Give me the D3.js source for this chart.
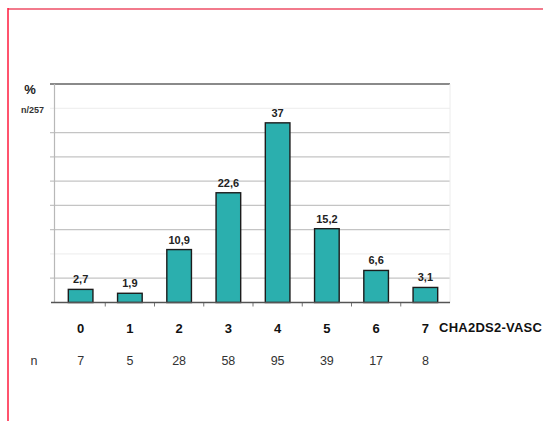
<!DOCTYPE html>
<html>
<head>
<meta charset="utf-8">
<script src="https://cdn.jsdelivr.net/npm/d3@7"></script>
<style>
  html, body { margin: 0; padding: 0; background: #fff; overflow: hidden; }
  svg { display: block; font-family: "Liberation Sans", Arial, sans-serif; }
</style>
</head>
<body>
<svg id="chart" width="543" height="421"></svg>
<script>
const categories = ["0", "1", "2", "3", "4", "5", "6", "7"];
const percentValues = [2.7, 1.9, 10.9, 22.6, 37, 15.2, 6.6, 3.1];
const valueLabels = ["2,7", "1,9", "10,9", "22,6", "37", "15,2", "6,6", "3,1"];
const nValues = ["7", "5", "28", "58", "95", "39", "17", "8"];
const yTicks = [5, 10, 15, 20, 25, 30, 35, 40, 45];
const faintTicks = [10, 40];
const xTitle = "CHA2DS2-VASC";
const yTitle = "%";
const ySubTitle = "n/257";
const nTitle = "n";

const svg = d3.select("#chart");

// page frame
svg.append("line").attr("x1", 8).attr("x2", 543).attr("y1", 9).attr("y2", 9)
  .attr("stroke", "#f27a8c").attr("stroke-width", 2);
svg.append("line").attr("x1", 8).attr("x2", 8).attr("y1", 8).attr("y2", 421)
  .attr("stroke", "#ff1a3c").attr("stroke-width", 1.5);

const x = d3.scaleBand().domain(categories).range([56, 450]).paddingInner(0.5).paddingOuter(0.25);
const y = d3.scaleLinear().domain([0, 45]).range([302.5, 84]);

// gridlines
const g = svg.append("g");
g.selectAll("line.grid").data(yTicks).enter().append("line")
  .attr("class", "grid")
  .attr("x1", 50).attr("x2", 450)
  .attr("y1", d => y(d)).attr("y2", d => y(d))
  .attr("stroke", d => d === 45 ? "#8a8a8a" : (faintTicks.includes(d) ? "#f0f0f0" : "#c4c4c4"))
  .attr("stroke-width", d => d === 45 ? 2 : 1.2);

// left axis line
svg.append("line").attr("x1", 54.5).attr("x2", 54.5).attr("y1", y(45)).attr("y2", y(0))
  .attr("stroke", "#b8b8b8").attr("stroke-width", 1.2);
// right faint line
svg.append("line").attr("x1", 450).attr("x2", 450).attr("y1", y(45)).attr("y2", y(0))
  .attr("stroke", "#ececec").attr("stroke-width", 1);

// bars
svg.append("g").selectAll("rect").data(categories).enter().append("rect")
  .attr("x", d => x(d))
  .attr("width", x.bandwidth())
  .attr("y", (d, i) => y(percentValues[i]))
  .attr("height", (d, i) => y(0) - y(percentValues[i]))
  .attr("fill", "#2bafae")
  .attr("stroke", "#1c1c1c")
  .attr("stroke-width", 1.4);

// value labels
svg.append("g").selectAll("text").data(categories).enter().append("text")
  .attr("x", d => x(d) + x.bandwidth() / 2)
  .attr("y", (d, i) => y(percentValues[i]) - 6)
  .attr("text-anchor", "middle")
  .attr("font-size", 11).attr("font-weight", "bold").attr("fill", "#222")
  .text((d, i) => valueLabels[i]);

// bottom axis
const xAxis = d3.axisBottom(x).tickSize(4).tickFormat("");
const ax = svg.append("g").attr("transform", `translate(0,${y(0)})`).call(xAxis);
ax.select(".domain").remove();
ax.selectAll(".tick line")
  .attr("transform", `translate(${x.step() / 2},0)`)
  .attr("stroke", "#777");
ax.selectAll(".tick").filter((d, i) => i === categories.length - 1).remove();
svg.append("line").attr("x1", 51).attr("x2", 450).attr("y1", y(0)).attr("y2", y(0))
  .attr("stroke", "#555").attr("stroke-width", 1.5);

// category labels
svg.append("g").selectAll("text").data(categories).enter().append("text")
  .attr("x", d => x(d) + x.bandwidth() / 2)
  .attr("y", 332.5)
  .attr("text-anchor", "middle")
  .attr("font-size", 13).attr("font-weight", "bold").attr("fill", "#111")
  .text(d => d);

svg.append("text").attr("x", 439).attr("y", 332)
  .attr("font-size", 13).attr("font-weight", "bold").attr("fill", "#111")
  .attr("letter-spacing", 0.25)
  .text(xTitle);

// n row
svg.append("g").selectAll("text").data(categories).enter().append("text")
  .attr("x", d => x(d) + x.bandwidth() / 2)
  .attr("y", 365)
  .attr("text-anchor", "middle")
  .attr("font-size", 12.5).attr("fill", "#333")
  .text((d, i) => nValues[i]);
svg.append("text").attr("x", 34).attr("y", 365).attr("text-anchor", "middle")
  .attr("font-size", 12.5).attr("fill", "#333").text(nTitle);

// y titles
svg.append("text").attr("x", 30).attr("y", 93.5).attr("text-anchor", "middle")
  .attr("font-size", 13).attr("font-weight", "bold").attr("fill", "#222").text(yTitle);
svg.append("text").attr("x", 32.5).attr("y", 113).attr("text-anchor", "middle")
  .attr("font-size", 9).attr("font-weight", "bold").attr("fill", "#333").text(ySubTitle);
</script>
</body>
</html>
